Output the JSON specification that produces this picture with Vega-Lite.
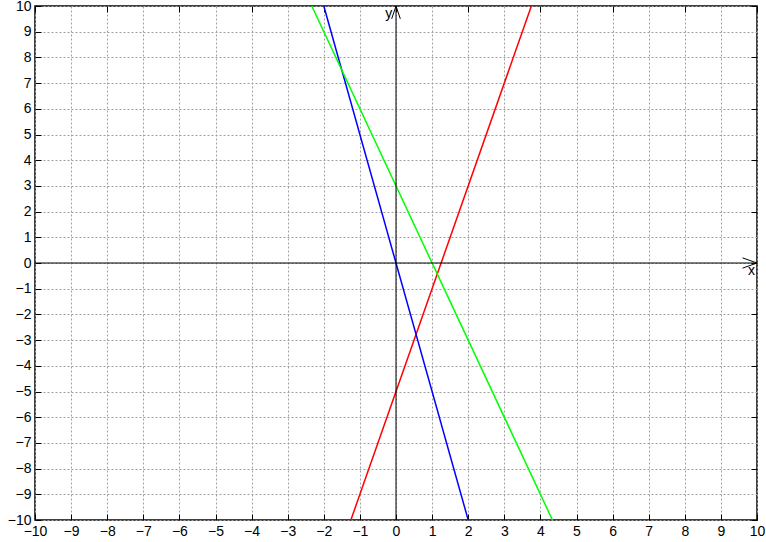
{
  "$schema": "https://vega.github.io/schema/vega-lite/v6.json",
  "width": 722,
  "height": 514,
  "autosize": "none",
  "padding": {"left": 35, "top": 6, "right": 9, "bottom": 22},
  "background": "white",
  "config": {
    "view": {"stroke": "black", "strokeWidth": 1.5},
    "axis": {
      "labelFont": "Liberation Sans",
      "labelFontSize": 14,
      "labelColor": "black",
      "tickColor": "black",
      "tickSize": -6,
      "domain": false,
      "gridColor": "#a0a0a0",
      "gridDash": [2, 2],
      "gridWidth": 1,
      "title": null
    }
  },
  "datasets": {
    "lines": [
      {"s": "red", "x": -1.25, "y": -10},
      {"s": "red", "x": 3.75, "y": 10},
      {"s": "blue", "x": -2, "y": 10},
      {"s": "blue", "x": 2, "y": -10},
      {"s": "green", "x": -2.333, "y": 10},
      {"s": "green", "x": 4.333, "y": -10}
    ],
    "zero": [
      {"s": "xaxis", "x": -10, "y": 0, "o": 0},
      {"s": "xaxis", "x": 10, "y": 0, "o": 1},
      {"s": "yaxis", "x": 0, "y": -10, "o": 0},
      {"s": "yaxis", "x": 0, "y": 10, "o": 1},
      {"s": "xarrow", "x": 9.6, "y": 0.2, "o": 0},
      {"s": "xarrow", "x": 10, "y": 0, "o": 1},
      {"s": "xarrow", "x": 9.6, "y": -0.2, "o": 2},
      {"s": "yarrow", "x": -0.12, "y": 9.5, "o": 0},
      {"s": "yarrow", "x": 0, "y": 10, "o": 1},
      {"s": "yarrow", "x": 0.12, "y": 9.5, "o": 2}
    ],
    "labels": [
      {"t": "x", "x": 9.85, "y": -0.05},
      {"t": "y", "x": -0.2, "y": 9.95}
    ]
  },
  "resolve": {"scale": {"x": "independent", "y": "independent"}},
  "layer": [
    {
      "data": {"name": "lines"},
      "mark": {"type": "line", "strokeWidth": 1.5, "clip": true},
      "encoding": {
        "x": {
          "field": "x", "type": "quantitative",
          "scale": {"domain": [-10, 10], "nice": false, "zero": false},
          "axis": {"orient": "bottom", "values": [-10,-9,-8,-7,-6,-5,-4,-3,-2,-1,0,1,2,3,4,5,6,7,8,9,10], "grid": true, "labelPadding": 10, "labelFlush": false}
        },
        "y": {
          "field": "y", "type": "quantitative",
          "scale": {"domain": [-10, 10], "nice": false, "zero": false},
          "axis": {"orient": "left", "values": [-10,-9,-8,-7,-6,-5,-4,-3,-2,-1,0,1,2,3,4,5,6,7,8,9,10], "grid": true, "labelPadding": 10, "labelFlush": false}
        },
        "color": {
          "field": "s", "type": "nominal",
          "scale": {"domain": ["red", "blue", "green"], "range": ["#ff0000", "#0000ff", "#00ff00"]},
          "legend": null
        }
      }
    },
    {
      "layer": [
        {
          "data": {"name": "zero"},
          "mark": {"type": "line", "strokeWidth": 1, "color": "black"},
          "encoding": {
            "x": {"field": "x", "type": "quantitative",
              "scale": {"domain": [-10, 10], "nice": false, "zero": false},
              "axis": {"orient": "top", "values": [-10,-9,-8,-7,-6,-5,-4,-3,-2,-1,0,1,2,3,4,5,6,7,8,9,10], "labels": false, "grid": false}},
            "y": {"field": "y", "type": "quantitative",
              "scale": {"domain": [-10, 10], "nice": false, "zero": false},
              "axis": {"orient": "right", "values": [-10,-9,-8,-7,-6,-5,-4,-3,-2,-1,0,1,2,3,4,5,6,7,8,9,10], "labels": false, "grid": false}},
            "detail": {"field": "s", "type": "nominal"},
            "order": {"field": "o", "type": "quantitative"}
          }
        },
        {
          "data": {"name": "labels"},
          "mark": {"type": "text", "font": "Liberation Sans", "fontSize": 14, "color": "black", "align": "center", "baseline": "top"},
          "encoding": {
            "x": {"field": "x", "type": "quantitative"},
            "y": {"field": "y", "type": "quantitative"},
            "text": {"field": "t"}
          }
        }
      ]
    }
  ]
}
